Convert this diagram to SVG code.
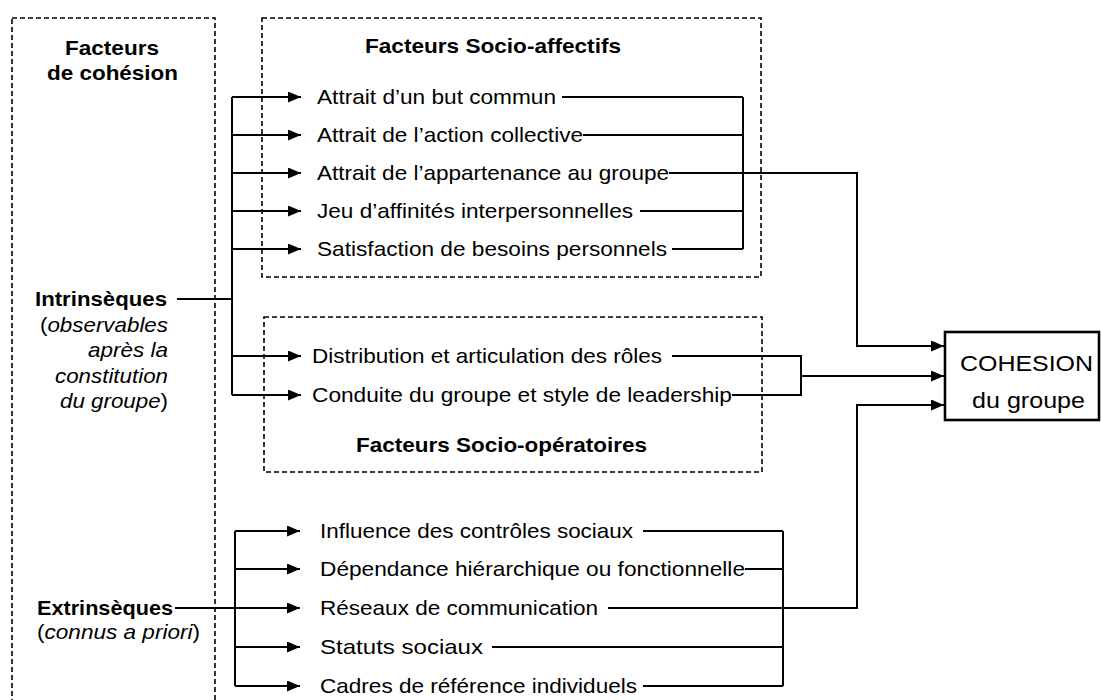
<svg xmlns="http://www.w3.org/2000/svg" width="1101" height="700" viewBox="0 0 1101 700">
<defs>
<marker id="ah" markerUnits="userSpaceOnUse" markerWidth="14" markerHeight="12" refX="13" refY="5.5" orient="auto">
<path d="M0,0 L13,5.5 L0,11 z" fill="#000"/>
</marker>
<style>
.t{font-family:"Liberation Sans",Arial,sans-serif;font-size:21px;fill:#000}
.b{font-family:"Liberation Sans",Arial,sans-serif;font-size:21px;font-weight:bold;fill:#000}
.i{font-style:italic}
.box{fill:none;stroke:#000;stroke-width:1.6;stroke-dasharray:5 3}
.c{fill:none;stroke:#000;stroke-width:2}
.a{fill:none;stroke:#000;stroke-width:2;marker-end:url(#ah)}
.big{font-size:22.5px}
</style>
</defs>
<rect width="1101" height="700" fill="#fff"/>

<g id="cohesion-factors">
<rect class="box" x="12" y="18" width="203" height="720"/>
<text class="b" x="65" y="55" textLength="94" lengthAdjust="spacingAndGlyphs">Facteurs</text>
<text class="b" x="47" y="80" textLength="131" lengthAdjust="spacingAndGlyphs">de cohésion</text>
</g>

<g id="intrinseques">
<text class="b" x="35" y="306" textLength="132" lengthAdjust="spacingAndGlyphs">Intrinsèques</text>
<text class="t" x="40" y="332" textLength="128" lengthAdjust="spacingAndGlyphs">(<tspan class="i">observables</tspan></text>
<text class="t i" x="88" y="357" textLength="80" lengthAdjust="spacingAndGlyphs">après la</text>
<text class="t i" x="55" y="383" textLength="113" lengthAdjust="spacingAndGlyphs">constitution</text>
<text class="t" x="60" y="408" textLength="108" lengthAdjust="spacingAndGlyphs"><tspan class="i">du groupe</tspan>)</text>
</g>

<g id="extrinseques">
<text class="b" x="37" y="615" textLength="136" lengthAdjust="spacingAndGlyphs">Extrinsèques</text>
<text class="t" x="37" y="639" textLength="163" lengthAdjust="spacingAndGlyphs">(<tspan class="i">connus a priori</tspan>)</text>
</g>

<g id="socio-affectifs">
<rect class="box" x="262" y="18" width="499" height="259"/>
<text class="b" x="365" y="53" textLength="256" lengthAdjust="spacingAndGlyphs">Facteurs Socio-affectifs</text>
<text class="t" x="317" y="104" textLength="239" lengthAdjust="spacingAndGlyphs">Attrait d’un but commun</text>
<text class="t" x="317" y="142" textLength="266" lengthAdjust="spacingAndGlyphs">Attrait de l’action collective</text>
<text class="t" x="317" y="180" textLength="352" lengthAdjust="spacingAndGlyphs">Attrait de l’appartenance au groupe</text>
<text class="t" x="317" y="218" textLength="316" lengthAdjust="spacingAndGlyphs">Jeu d’affinités interpersonnelles</text>
<text class="t" x="317" y="256" textLength="350" lengthAdjust="spacingAndGlyphs">Satisfaction de besoins personnels</text>
</g>

<g id="socio-operatoires">
<rect class="box" x="264" y="317" width="498" height="155"/>
<text class="t" x="312" y="363" textLength="350" lengthAdjust="spacingAndGlyphs">Distribution et articulation des rôles</text>
<text class="t" x="312" y="402" textLength="420" lengthAdjust="spacingAndGlyphs">Conduite du groupe et style de leadership</text>
<text class="b" x="356" y="452" textLength="291" lengthAdjust="spacingAndGlyphs">Facteurs Socio-opératoires</text>
</g>

<g id="extrinsic-items">
<text class="t" x="320" y="538" textLength="313" lengthAdjust="spacingAndGlyphs">Influence des contrôles sociaux</text>
<text class="t" x="320" y="576" textLength="425" lengthAdjust="spacingAndGlyphs">Dépendance hiérarchique ou fonctionnelle</text>
<text class="t" x="320" y="615" textLength="278" lengthAdjust="spacingAndGlyphs">Réseaux de communication</text>
<text class="t" x="320" y="654" textLength="163" lengthAdjust="spacingAndGlyphs">Statuts sociaux</text>
<text class="t" x="320" y="693" textLength="317" lengthAdjust="spacingAndGlyphs">Cadres de référence individuels</text>
</g>

<g id="cohesion-du-groupe">
<rect x="945" y="332" width="154" height="88" fill="#fff" stroke="#000" stroke-width="2.6"/>
<text class="t big" x="960" y="371" textLength="133" lengthAdjust="spacingAndGlyphs">COHESION</text>
<text class="t big" x="972" y="408" textLength="113" lengthAdjust="spacingAndGlyphs">du groupe</text>
</g>

<g id="connectors">
<path class="c" d="M177,299 H232 M232,97 V395"/>
<path class="a" d="M232,97 H301"/>
<path class="a" d="M232,135 H301"/>
<path class="a" d="M232,173 H301"/>
<path class="a" d="M232,211 H301"/>
<path class="a" d="M232,249 H301"/>
<path class="a" d="M232,356 H301"/>
<path class="a" d="M232,395 H301"/>
<path class="c" d="M562,97 H743 M583,135 H743 M640,211 H743 M672,249 H743 M743,97 V249"/>
<path class="a" d="M669,173 H857 V346 H944"/>
<path class="c" d="M672,356 H801 V395 H732"/>
<path class="a" d="M801,376 H944"/>
<path class="a" d="M175,608 H300"/>
<path class="c" d="M235,531 V686"/>
<path class="a" d="M235,531 H300"/>
<path class="a" d="M235,569 H300"/>
<path class="a" d="M235,647 H300"/>
<path class="a" d="M235,686 H300"/>
<path class="c" d="M643,531 H783 M745,569 H783 M492,647 H783 M643,686 H783 M783,531 V686"/>
<path class="a" d="M608,608 H857 V405 H944"/>
</g>
</svg>
